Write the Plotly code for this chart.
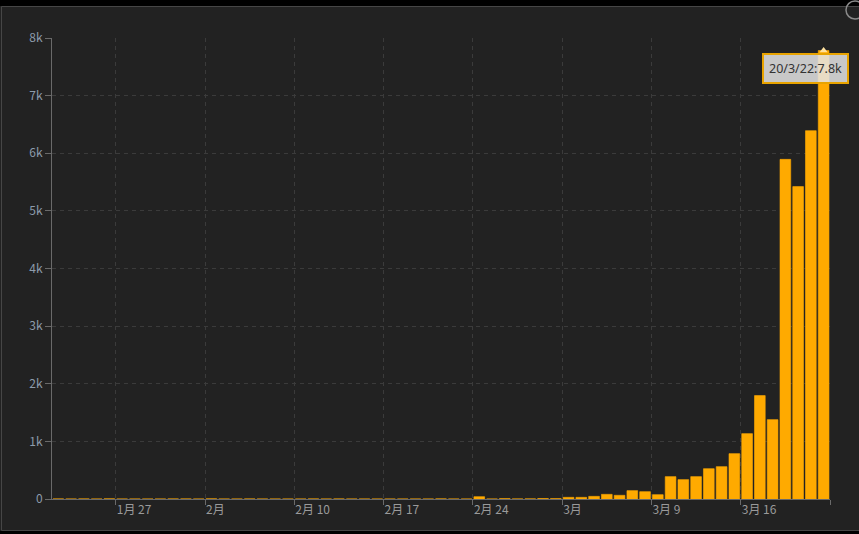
import pandas as pd
import plotly.graph_objects as go

# daily new cases, 2020-01-22 .. 2020-03-22
dates = pd.date_range('2020-01-22', '2020-03-22', freq='D')
new_cases = [
    1, 0, 1, 0, 3, 0, 0, 0, 0, 1,          # Jan 22 - Jan 31
    1, 0, 3, 0, 0, 1, 0, 0, 0, 0,          # Feb 1 - Feb 10
    1, 0, 1, 0, 0, 0, 0, 0, 0, 0,          # Feb 11 - Feb 20
    2, 0, 0, 40, 0, 6, 1, 2, 8,            # Feb 21 - Feb 29
    6, 29, 29, 46, 81, 64, 145, 127, 75,   # Mar 1 - Mar 9
    388, 336, 388, 526, 561, 787, 1134,    # Mar 10 - Mar 16
    1794, 1377, 5894, 5421, 6392, 7783,    # Mar 17 - Mar 22
]

tick_dates = ['2020-01-27', '2020-02-03', '2020-02-10', '2020-02-17',
              '2020-02-24', '2020-03-02', '2020-03-09', '2020-03-16', '2020-03-23']
tick_labels = ['1月 27', '2月', '2月 10', '2月 17', '2月 24', '3月', '3月 9', '3月 16', '']

BG = '#222222'
BAR = '#ffaa00'
GRID = '#3b3b3b'
AXIS = '#6a6a6a'

W, H = 859, 534
PL, PR, PT, PB = 52, 29, 38, 35


def px(x):
    return (x - PL) / (W - PL - PR)


def py(y):
    return (H - PB - y) / (H - PT - PB)


fig = go.Figure()

fig.add_trace(go.Bar(
    x=dates,
    y=new_cases,
    xperiod=86400000,
    xperiodalignment='middle',
    marker=dict(color=BAR, line=dict(color=BAR, width=0.6)),
    hoverinfo='skip',
    showlegend=False,
))

# little pointer at the top of the highlighted bar
fig.add_trace(go.Scatter(
    x=[dates[-1]],
    y=[new_cases[-1]],
    xperiod=86400000,
    xperiodalignment='middle',
    mode='markers',
    marker=dict(symbol='triangle-up', size=7, color='#ffe2a0'),
    hoverinfo='skip',
    showlegend=False,
))

last_val = new_cases[-1]
tip_text = f"{dates[-1].strftime('%y')}/{dates[-1].month}/{dates[-1].day}:{last_val / 1000:.1f}k"

fig.add_annotation(
    x=dates[-1] + pd.Timedelta(hours=12),
    y=last_val,
    text=tip_text,
    showarrow=False,
    xanchor='center',
    yanchor='middle',
    xshift=-18,
    yshift=-18,
    font=dict(family='Noto Sans, sans-serif', size=12.5, color='#333333'),
    bgcolor='rgba(228,228,228,0.86)',
    bordercolor='#e8a300',
    borderwidth=2,
    borderpad=5,
)

# frame of the panel
fig.add_shape(type='rect', xref='paper', yref='paper',
              x0=px(0), x1=px(W), y0=py(0), y1=py(6),
              fillcolor='#000000', line=dict(width=0), layer='above')
fig.add_shape(type='rect', xref='paper', yref='paper',
              x0=px(0), x1=px(W), y0=py(531), y1=py(H),
              fillcolor='#000000', line=dict(width=0), layer='above')
fig.add_shape(type='rect', xref='paper', yref='paper',
              x0=px(1.5), x1=px(W + 5), y0=py(6.5), y1=py(530.5),
              line=dict(color='#464646', width=1), layer='above')
fig.add_shape(type='circle', xref='paper', yref='paper',
              x0=px(846), x1=px(864), y0=py(1), y1=py(19),
              line=dict(color='#8a8a8a', width=1.5), layer='above')

fig.update_layout(
    width=W,
    height=H,
    autosize=False,
    margin=dict(l=PL, r=PR, t=PT, b=PB),
    paper_bgcolor=BG,
    plot_bgcolor=BG,
    bargap=0.16,
    font=dict(family='Noto Sans CJK SC, Noto Sans, sans-serif', size=12, color='#999999'),
    xaxis=dict(
        type='date',
        range=['2020-01-22', '2020-03-23'],
        tickvals=tick_dates,
        ticktext=tick_labels,
        ticklabelposition='outside right',
        ticks='outside',
        ticklen=5,
        tickcolor=AXIS,
        tickfont=dict(size=12, color='#9a9a9a'),
        showline=True,
        linecolor=AXIS,
        linewidth=1,
        showgrid=True,
        gridcolor=GRID,
        griddash='4px,4px',
        zeroline=False,
        layer='below traces',
        fixedrange=True,
    ),
    yaxis=dict(
        range=[0, 8000],
        dtick=1000,
        tickformat='~s',
        ticks='outside',
        ticklen=6,
        tickcolor=AXIS,
        tickfont=dict(size=12, color='#8d9bab'),
        showline=True,
        linecolor=AXIS,
        linewidth=1,
        showgrid=True,
        gridcolor=GRID,
        griddash='4px,4px',
        zeroline=False,
        fixedrange=True,
    ),
)

# the page's default body margin would push the chart 8px right/down
fig.write_html('out.html', config={'displayModeBar': False},
               post_script="document.body.style.margin='0';")
